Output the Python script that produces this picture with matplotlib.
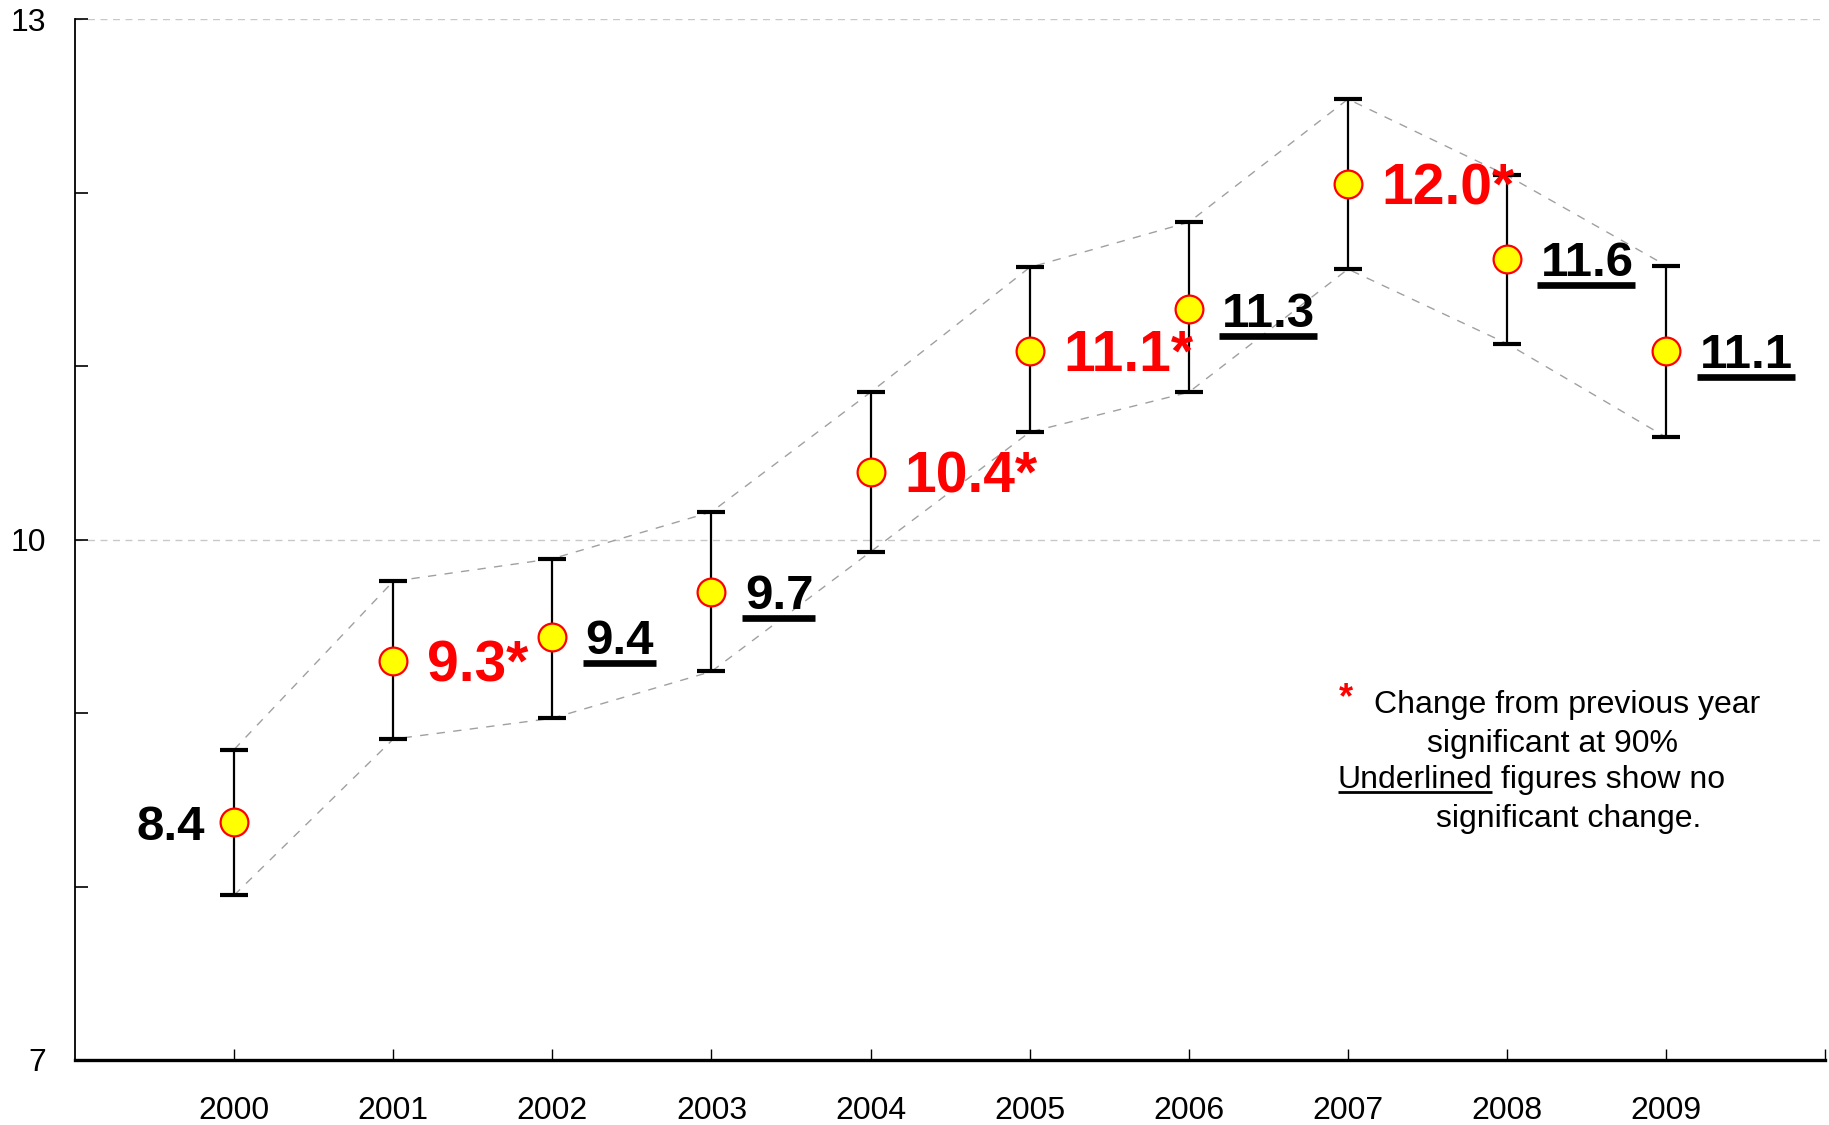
import numpy as np
import matplotlib
matplotlib.use("Agg")
import matplotlib.pyplot as plt
from matplotlib.lines import Line2D

plt.rcParams['font.family'] = ['Liberation Sans', 'DejaVu Sans']

# values
years = [2000, 2001, 2002, 2003, 2004, 2005, 2006, 2007, 2008, 2009]
estimate = [8.37, 9.30, 9.44, 9.70, 10.39, 11.09, 11.33, 12.05, 11.62, 11.09]
upper = [8.79, 9.76, 9.89, 10.16, 10.85, 11.57, 11.83, 12.54, 12.10, 11.58]
lower = [7.95, 8.85, 8.97, 9.24, 9.93, 10.62, 10.85, 11.56, 11.13, 10.59]
labels = ['8.4', '9.3*', '9.4', '9.7', '10.4*', '11.1*', '11.3', '12.0*', '11.6', '11.1']
significant = [False, True, False, False, True, True, False, True, False, False]
ytick_major = [7, 10, 13]
ytick_minor = [8, 9, 11, 12]

x = np.array(years)
est = np.array(estimate)
up = np.array(upper)
lo = np.array(lower)

fig = plt.figure(figsize=(18.29, 11.25), dpi=100)
ax = fig.add_axes([0.041, 0.0578, 0.957, 0.925])

# dashed envelope through the interval ends
ax.plot(x, up, ls=(0, (6, 6)), color='#a0a0a0', lw=1, zorder=1)
ax.plot(x, lo, ls=(0, (6, 6)), color='#a0a0a0', lw=1, zorder=1)

ax.errorbar(x, est, yerr=[est - lo, up - est], fmt='none', ecolor='black',
            elinewidth=1.6, capsize=10, capthick=3, zorder=2)
ax.plot(x, est, 'o', markersize=20, markerfacecolor='#ffff00',
        markeredgecolor='#ff0000', markeredgewidth=1.6, zorder=3)

texts = []
for i in range(len(years)):
    if significant[i]:
        col, fs = '#ff0000', 41
    else:
        col, fs = 'black', 35.5
    if i == 0:
        off, ha = -21, 'right'
    else:
        off, ha = 24, 'left'
    t = ax.annotate(labels[i], xy=(x[i], est[i]), xytext=(off, -0.358 * fs),
                    textcoords='offset points', ha=ha, va='baseline',
                    fontsize=fs, fontweight='bold', color=col, zorder=4)
    texts.append(t)

ax.set_xlim(1999, 2010)
ax.set_ylim(7, 13)
ax.set_yticks(ytick_major)
ax.set_yticks(ytick_minor, minor=True)
ax.set_xticks(years + [2010])
ax.set_xticklabels([str(y) for y in years] + [''])

ax.tick_params(axis='y', which='both', direction='in', length=9, width=1.2,
               labelsize=23, pad=21)
ax.tick_params(axis='x', direction='in', length=8, width=1, labelsize=23, pad=26)

ax.grid(axis='y', which='major', ls=(0, (5, 4)), color='#c8c8c8', lw=1)
ax.set_axisbelow(True)
for s in ['top', 'right']:
    ax.spines[s].set_visible(False)
ax.spines['bottom'].set_linewidth(2.4)
ax.spines['left'].set_linewidth(1.3)

# note box
ax.text(0.722, 0.338, '*', transform=ax.transAxes, fontsize=26,
        fontweight='bold', color='#ff0000', va='baseline')
ax.text(0.7419, 0.3333, 'Change from previous year', transform=ax.transAxes,
        fontsize=23, va='baseline')
ax.text(0.7727, 0.2959, 'significant at 90%', transform=ax.transAxes,
        fontsize=23, va='baseline')
u = ax.text(0.7213, 0.2613, 'Underlined', transform=ax.transAxes,
            fontsize=23, va='baseline')
ax.annotate(' figures show no', xy=(1, 0), xycoords=u, fontsize=23,
            va='bottom', ha='left')
ax.text(0.7778, 0.2238, 'significant change.', transform=ax.transAxes,
        fontsize=23, va='baseline')

# underlines
fig.canvas.draw()
r = fig.canvas.get_renderer()
inv = fig.transFigure.inverted()
for i, t in enumerate(texts):
    if significant[i] or i == 0:
        continue
    bb = t.get_window_extent(r)
    (x0, y0), (x1, _) = inv.transform([(bb.x0 - 3, bb.y0 + 1), (bb.x1 + 2, bb.y0)])
    fig.add_artist(Line2D([x0, x1], [y0, y0], color='black', lw=4.8,
                          solid_capstyle='butt', transform=fig.transFigure))
bb = u.get_window_extent(r)
(x0, y0), (x1, _) = inv.transform([(bb.x0, bb.y0 + 3), (bb.x1, bb.y0)])
fig.add_artist(Line2D([x0, x1], [y0, y0], color='black', lw=2,
                      solid_capstyle='butt', transform=fig.transFigure))

fig.savefig('out.png', dpi=100)
